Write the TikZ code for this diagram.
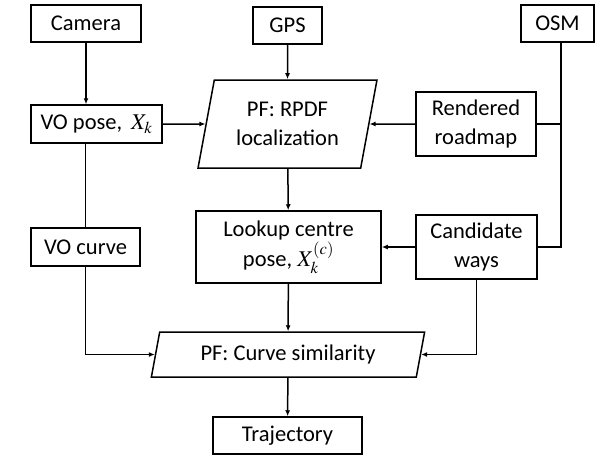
\documentclass[tikz,border=0pt]{standalone}
\usepackage{mathptmx}
\usepackage{fontspec}
\setmainfont{Carlito}
\usetikzlibrary{
	shapes.geometric,
	arrows.meta}

\begin{document}
\begin{tikzpicture}[x=1pt,y=-1pt,line width=1.5pt,
		every node/.style={font=\fontsize{22.5}{29}\selectfont,align=center},
		>={Latex[length=6pt,width=5pt]}]
		\tikzstyle{block}=[rectangle,draw,inner sep=2pt]
		\tikzstyle{filter}=[trapezium,draw,trapezium left angle=76,
							trapezium right angle=104,trapezium stretches=true,inner sep=2pt]

		\useasboundingbox (0,0) rectangle (595,459);

		% sources
		\node[block,minimum width=110pt,minimum height=37pt] (camera) at (86,23.5) {Camera};
		\node[block,minimum width=69pt,minimum height=37pt] (gps) at (287.5,25.5) {GPS};
		\node[block,minimum width=73pt,minimum height=37pt] (osm) at (557.5,23.5) {OSM};
		\coordinate (bus) at (561,0);

		% left column
		\node[block,minimum width=131pt,minimum height=38pt] (vopose) at (96.5,124) {VO pose, \,$X_k$};
		\node[block,minimum width=109pt,minimum height=38pt] (vocurve) at (85.5,247) {VO curve};

		% middle column
		\node[filter,minimum width=179pt,minimum height=88pt] (rpdf) at (287.5,124) {PF: RPDF\\localization};
		\node[block,minimum width=185pt,minimum height=72pt] (lookup) at (288.5,247) {Lookup centre\\[1pt]pose, $X_k^{(c)}$};
		\node[filter,minimum width=274pt,minimum height=45pt] (pfcurve) at (288,354.5) {PF: Curve similarity};
		\node[block,minimum width=149pt,minimum height=37pt] (traj) at (287.5,435.5) {Trajectory};

		% right column
		\node[block,minimum width=120pt,minimum height=64pt] (rendered) at (476,124) {Rendered\\roadmap};
		\node[block,minimum width=121pt,minimum height=64pt] (cand) at (476.5,247) {Candidate\\ways};

		% edges
		\draw [->] (camera) -- (camera |- vopose.north);
		\draw [->] (gps) -- (rpdf);
		\draw [->] (vopose) -- (rpdf);
		\draw [->] (rendered) -- (rpdf);
		\draw [->] (rpdf) -- (lookup);
		\draw [->] (cand) -- (lookup);
		\draw [->] (lookup) -- (pfcurve);
		\draw [->] (pfcurve) -- (traj);
		\draw (vopose.south -| vocurve) -- (vocurve);
		\draw [->] (vocurve) |- (pfcurve);
		\draw [->] (cand) |- (pfcurve);

		% OSM feeds both map blocks
		\draw (bus |- osm.south) -- (bus |- cand) -- (cand.east);
		\draw (bus |- rendered) -- (rendered.east);
\end{tikzpicture}
\end{document}
